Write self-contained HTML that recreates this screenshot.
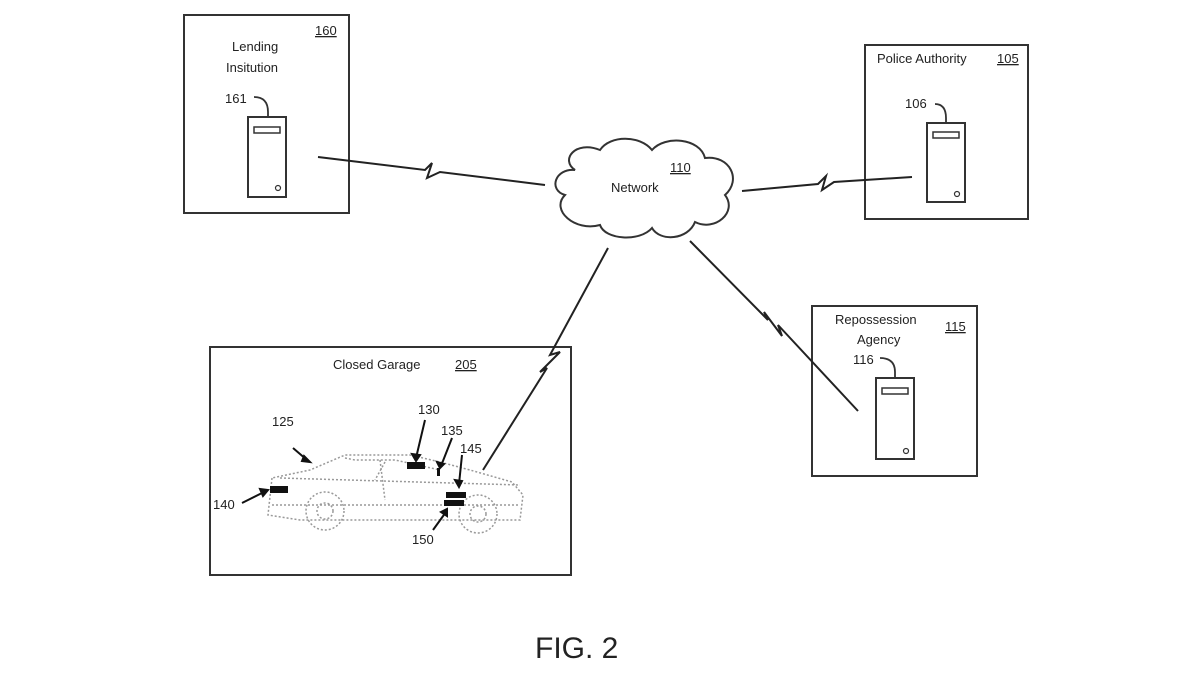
<!DOCTYPE html>
<html><head><style>
html,body{margin:0;padding:0;background:#fff;}
svg{display:block;}
text{font-family:"Liberation Sans",sans-serif;fill:#222;}
</style></head><body>
<svg width="1200" height="675" viewBox="0 0 1200 675" xmlns="http://www.w3.org/2000/svg">
<g fill="none" stroke="#333" stroke-width="2">
<rect x="184" y="15" width="165" height="198"/>
<rect x="865" y="45" width="163" height="174"/>
<rect x="812" y="306" width="165" height="170"/>
<rect x="210" y="347" width="361" height="228"/>
</g>
<g fill="#fff" stroke="#333" stroke-width="2">
<rect x="248" y="117" width="38" height="80"/>
<rect x="254" y="127" width="26" height="6" stroke-width="1.5"/>
<circle cx="278" cy="188" r="2.5" stroke-width="1.2"/>
<rect x="927" y="123" width="38" height="79"/>
<rect x="933" y="132" width="26" height="6" stroke-width="1.5"/>
<circle cx="957" cy="194" r="2.5" stroke-width="1.2"/>
<rect x="876" y="378" width="38" height="81"/>
<rect x="882" y="388" width="26" height="6" stroke-width="1.5"/>
<circle cx="906" cy="451" r="2.5" stroke-width="1.2"/>
</g>
<g fill="none" stroke="#333" stroke-width="1.8">
<path d="M254 97 Q268 97 268 112 L268 117"/>
<path d="M935 104 Q946 104 946 118 L946 123"/>
<path d="M880 358 Q895 358 895 372 L895 378"/>
</g>
<g fill="none" stroke="#222" stroke-width="2">
<path d="M318 157 L425 170 L432 163 L427 178 L440 172 L545 185"/>
<path d="M742 191 L818 184 L826 176 L822 190 L834 182 L912 177"/>
<path d="M608 248 L550 355 L560 352 L540 372 L547 368 L483 470"/>
<path d="M690 241 L768 320 L764 312 L782 336 L778 325 L858 411"/>
</g>
<path d="M575 170 C560 160 575 140 600 150 C610 135 640 135 652 150 C665 135 700 138 705 158 C730 155 742 180 725 195 C738 212 715 232 695 222 C688 240 660 242 652 228 C640 242 605 240 600 225 C575 232 550 210 565 195 C548 190 555 168 575 170 Z" fill="#fff" stroke="#333" stroke-width="2"/>
<g fill="none" stroke="#999" stroke-width="1.5" stroke-dasharray="2 2">
<path d="M272 478 L268 515 L300 520 L520 520 L523 495 L512 482 L470 470 L440 462 L410 455 L345 455 L310 470 Z"/>
<path d="M345 458 L355 460 L395 460 L440 470"/>
<path d="M280 478 L520 485"/>
<path d="M272 505 L520 505"/>
<circle cx="325" cy="511" r="19"/>
<circle cx="478" cy="514" r="19"/>
<circle cx="325" cy="511" r="8"/>
<circle cx="478" cy="514" r="8"/>
<path d="M380 460 L385 500 M385 462 L375 480"/>
</g>
<g fill="#111">
<rect x="270" y="486" width="18" height="7"/>
<rect x="407" y="462" width="18" height="7"/>
<rect x="437" y="468" width="3" height="8"/>
<rect x="446" y="492" width="20" height="6"/>
<rect x="444" y="500" width="20" height="6"/>
</g>
<g stroke="#111" stroke-width="2" fill="#111">
<path d="M293 448 L307 460"/><path d="M304 456 L310 462 L302 461 Z"/>
<path d="M425 420 L416 458"/><path d="M412 454 L416 461 L420 455 Z"/>
<path d="M452 438 L441 466"/><path d="M437 462 L440 468 L444 464 Z"/>
<path d="M462 455 L459 484"/><path d="M455 480 L459 487 L462 481 Z"/>
<path d="M242 503 L264 492"/><path d="M260 489 L268 490 L263 496 Z"/>
<path d="M433 530 L446 512"/><path d="M441 512 L447 509 L447 516 Z"/>
</g>
<g font-size="13">
<text x="232" y="51">Lending</text>
<text x="226" y="72">Insitution</text>
<text x="315" y="35" text-decoration="underline">160</text>
<text x="225" y="103">161</text>
<text x="877" y="63">Police Authority</text>
<text x="997" y="63" text-decoration="underline">105</text>
<text x="905" y="108">106</text>
<text x="835" y="324">Repossession</text>
<text x="857" y="344">Agency</text>
<text x="945" y="331" text-decoration="underline">115</text>
<text x="853" y="364">116</text>
<text x="611" y="192">Network</text>
<text x="670" y="172" text-decoration="underline">110</text>
<text x="333" y="369">Closed Garage</text>
<text x="455" y="369" text-decoration="underline">205</text>
<text x="272" y="426">125</text>
<text x="418" y="414">130</text>
<text x="441" y="435">135</text>
<text x="460" y="453">145</text>
<text x="213" y="509">140</text>
<text x="412" y="544">150</text>
</g>
<text x="535" y="658" font-size="30" style="fill:#222">FIG. 2</text>
</svg>
</body></html>
